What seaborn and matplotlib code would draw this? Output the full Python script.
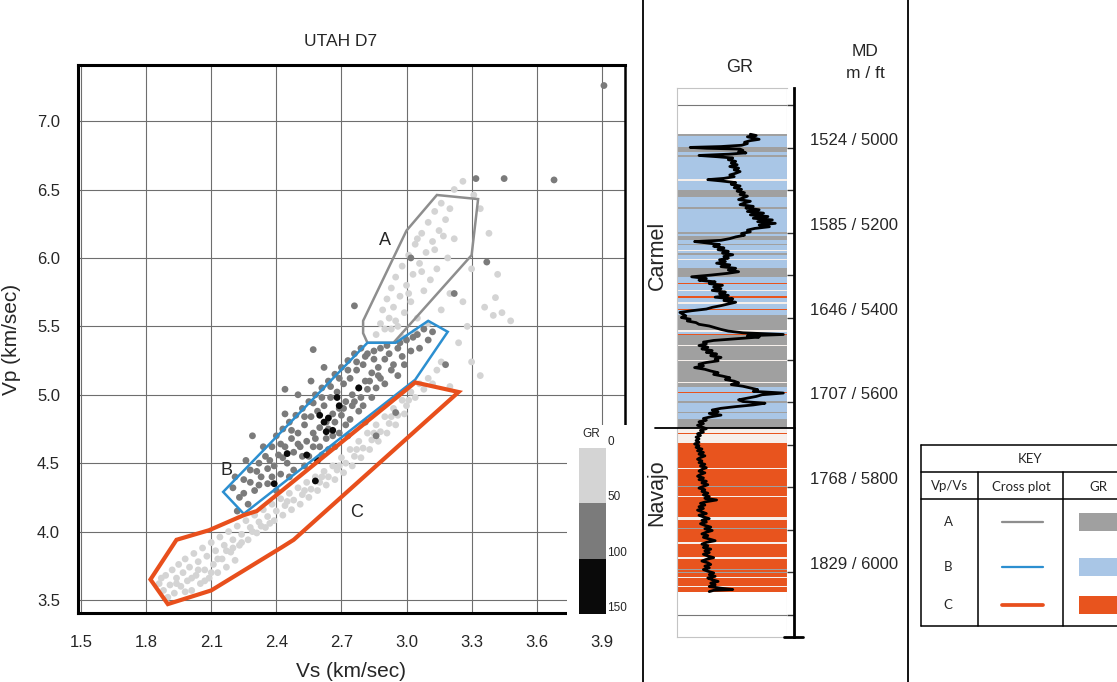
import pandas as pd
import seaborn as sns
import matplotlib.pyplot as plt
import matplotlib.lines as mlines
import matplotlib.patches as mpatches
import matplotlib.transforms as mtransforms
import matplotlib.cm as cm
from matplotlib.colors import ListedColormap, BoundaryNorm

W, H = 1117, 682

# ---------------- cross plot data ----------------
gr_bins = ['0-50', '50-100', '100-150']
gr_edges = [0, 50, 100, 150]
gr_colors = ['#d4d4d4', '#7b7b7b', '#0a0a0a']

x_ticks = [1.5, 1.8, 2.1, 2.4, 2.7, 3.0, 3.3, 3.6, 3.9]
y_ticks = [3.5, 4.0, 4.5, 5.0, 5.5, 6.0, 6.5, 7.0]

# (Vs, Vp) pairs, GR 0-50
pts_low_gr = [
    (1.86, 3.62), (1.88, 3.57), (1.89, 3.68), (1.91, 3.61), (1.92, 3.72), (1.93, 3.55), (1.94, 3.66),
    (1.95, 3.76), (1.96, 3.60), (1.97, 3.70), (1.98, 3.80), (1.99, 3.64), (2.00, 3.74), (2.01, 3.57),
    (2.02, 3.84), (2.03, 3.68), (2.04, 3.78), (2.05, 3.62), (2.06, 3.88), (2.07, 3.72), (2.08, 3.82),
    (2.09, 3.66), (2.10, 3.92), (2.11, 3.76), (2.12, 3.86), (2.13, 3.70), (2.14, 3.96), (2.15, 3.80),
    (2.16, 3.90), (2.17, 3.74), (2.18, 4.00), (2.19, 3.85), (2.20, 3.94), (2.21, 3.79), (2.22, 4.04),
    (2.23, 3.90), (2.24, 3.98), (2.26, 4.08), (2.27, 3.94), (2.28, 4.03), (2.30, 4.12), (2.31, 3.99),
    (2.32, 4.07), (2.34, 4.16), (2.35, 4.03), (2.36, 4.11), (2.38, 4.20), (2.39, 4.08), (2.40, 4.15),
    (2.42, 4.24), (2.43, 4.12), (2.44, 4.19), (2.46, 4.28), (2.47, 4.16), (2.48, 4.23), (2.50, 4.32),
    (2.51, 4.20), (2.52, 4.27), (2.54, 4.36), (2.55, 4.25), (2.56, 4.31), (2.58, 4.40), (2.59, 4.30),
    (2.60, 4.36), (2.62, 4.44), (2.63, 4.34), (2.64, 4.40), (2.66, 4.48), (2.67, 4.38), (2.68, 4.45),
    (2.70, 4.54), (2.71, 4.43), (2.72, 4.50), (2.74, 4.60), (2.75, 4.48), (2.76, 4.55), (2.78, 4.66),
    (2.79, 4.54), (2.80, 4.61), (2.82, 4.72), (2.83, 4.60), (2.84, 4.67), (2.86, 4.78), (2.87, 4.66),
    (2.88, 4.73), (2.90, 4.84), (2.91, 4.72), (2.92, 4.79), (2.94, 4.90), (2.95, 4.78), (2.96, 4.85),
    (2.98, 4.96), (2.99, 4.86), (3.00, 4.92), (3.02, 5.02), (3.04, 4.98), (3.06, 5.08), (3.08, 5.04),
    (3.10, 5.12), (3.12, 5.08), (3.14, 5.18), (3.16, 5.24),
    (2.86, 5.44), (2.88, 5.52), (2.89, 5.62), (2.90, 5.48), (2.91, 5.70), (2.92, 5.56), (2.93, 5.78),
    (2.94, 5.64), (2.95, 5.86), (2.96, 5.50), (2.97, 5.72), (2.98, 5.94), (2.99, 5.60), (3.00, 5.80),
    (3.01, 6.02), (3.02, 5.68), (3.03, 5.88), (3.04, 6.10), (3.05, 5.56), (3.06, 5.96), (3.07, 6.18),
    (3.08, 5.76), (3.09, 6.04), (3.10, 6.26), (3.11, 5.84), (3.12, 6.12), (3.13, 6.34), (3.14, 5.92),
    (3.15, 6.20), (3.16, 6.40), (3.18, 6.28), (3.19, 6.00), (3.20, 6.36), (3.22, 6.14), (2.98, 5.42),
    (3.04, 5.46), (3.10, 5.52), (3.16, 5.62), (3.20, 5.74),
    (3.22, 6.50), (3.26, 6.56), (3.34, 6.36), (3.30, 5.92), (3.36, 5.64), (3.40, 5.58), (3.44, 5.60),
    (3.26, 5.68), (3.24, 5.38), (3.30, 5.24), (3.34, 5.14), (3.20, 5.06), (3.38, 6.18), (3.42, 5.88),
    (3.28, 5.50), (3.48, 5.54), (3.31, 6.46), (3.41, 5.71),
    (1.87, 3.66), (1.90, 3.52), (1.94, 3.62), (1.98, 3.56), (2.01, 3.66), (2.04, 3.72), (2.07, 3.64),
    (2.10, 3.70), (2.13, 3.80), (2.17, 3.86), (2.20, 3.88), (2.24, 3.92), (2.29, 4.00), (2.33, 4.04),
    (2.37, 4.06), (2.45, 4.22), (2.53, 4.30), (2.61, 4.40), (2.69, 4.48), (2.77, 4.60), (2.85, 4.72),
    (2.93, 4.84), (3.01, 4.96), (2.95, 5.54), (3.01, 5.74), (3.07, 5.90), (3.13, 6.06), (3.17, 6.16),
    (3.05, 6.14), (2.93, 5.48),
]

# GR 50-100
pts_mid_gr = [
    (2.20, 4.32), (2.23, 4.25), (2.25, 4.38), (2.27, 4.20), (2.28, 4.45), (2.30, 4.30), (2.32, 4.50),
    (2.33, 4.40), (2.35, 4.55), (2.36, 4.35), (2.38, 4.62), (2.39, 4.48), (2.40, 4.70), (2.41, 4.56),
    (2.42, 4.42), (2.43, 4.75), (2.44, 4.62), (2.45, 4.50), (2.46, 4.80), (2.47, 4.68), (2.48, 4.58),
    (2.49, 4.85), (2.50, 4.72), (2.51, 4.62), (2.52, 4.90), (2.53, 4.78), (2.54, 4.66), (2.55, 4.95),
    (2.56, 4.84), (2.57, 4.72), (2.58, 5.00), (2.59, 4.88), (2.60, 4.76), (2.61, 5.05), (2.62, 4.92),
    (2.63, 4.80), (2.64, 5.10), (2.65, 4.98), (2.66, 4.86), (2.67, 5.15), (2.68, 5.02), (2.69, 4.90),
    (2.70, 5.20), (2.71, 5.08), (2.72, 4.95), (2.73, 5.25), (2.74, 5.12), (2.75, 5.00), (2.76, 5.30),
    (2.77, 5.18), (2.78, 5.05), (2.79, 5.34), (2.80, 5.22), (2.81, 5.10), (2.82, 5.30), (2.84, 5.16),
    (2.85, 5.26), (2.87, 5.20), (2.88, 5.34), (2.90, 5.26), (2.92, 5.30), (2.94, 5.22), (2.96, 5.34),
    (2.98, 5.28), (3.00, 5.40), (3.02, 5.32), (3.05, 5.44), (3.08, 5.48), (3.10, 5.40), (3.12, 5.46),
    (2.22, 4.15), (2.26, 4.52), (2.34, 4.62), (2.44, 4.86), (2.50, 5.00), (2.56, 5.10), (2.62, 5.20),
    (2.40, 4.30), (2.48, 4.45), (2.55, 4.55), (2.60, 4.62), (2.66, 4.70), (2.72, 4.78), (2.78, 4.88),
    (2.84, 4.98), (2.90, 5.08), (2.96, 5.14), (2.28, 4.36), (2.52, 4.55), (2.58, 4.68), (2.64, 4.75),
    (2.70, 4.85), (2.76, 4.95), (2.82, 5.04), (2.88, 5.12), (2.64, 4.60), (2.69, 4.72), (2.74, 4.82),
    (2.80, 4.92), (2.86, 5.05),
    (2.31, 4.44), (2.37, 4.52), (2.42, 4.64), (2.47, 4.74), (2.53, 4.84), (2.57, 4.94), (2.61, 4.98),
    (2.65, 5.06), (2.69, 5.12), (2.73, 5.18), (2.77, 5.24), (2.81, 5.28), (2.85, 5.32), (2.91, 5.36),
    (2.97, 5.38), (3.03, 5.42), (2.36, 4.46), (2.43, 4.54), (2.50, 4.64), (2.57, 4.62), (2.63, 4.68),
    (2.67, 4.80), (2.71, 4.90), (2.75, 4.92), (2.79, 4.98), (2.83, 5.10), (2.87, 5.14), (2.93, 5.18),
    (2.99, 5.22), (3.06, 5.34), (2.21, 4.40), (2.25, 4.28), (2.32, 4.34), (2.38, 4.40), (2.46, 4.40),
    (2.53, 4.48), (2.61, 4.56), (2.67, 4.62), (2.73, 4.70), (2.81, 4.80),
    (2.57, 5.33), (2.44, 5.04), (2.29, 4.70), (2.76, 5.65), (3.18, 5.22), (2.86, 4.70), (2.95, 4.87),
    (3.02, 6.00), (3.22, 5.74), (3.37, 5.97), (3.32, 6.58), (3.45, 6.58), (3.68, 6.57), (3.91, 7.26),
]

# GR 100-150
pts_high_gr = [
    (2.45, 4.57), (2.39, 4.35), (2.54, 4.56), (2.58, 4.37), (2.63, 4.73), (2.64, 4.83), (2.68, 4.98),
    (2.78, 5.05), (2.60, 4.85), (2.62, 4.80), (2.69, 4.92), (2.59, 4.52), (2.66, 4.74),
]

# Vp/Vs zones drawn on the cross plot
zone_a_vs = [3.14, 3.33, 3.30, 2.94, 2.82, 2.80, 2.80, 3.00]
zone_a_vp = [6.46, 6.43, 6.02, 5.38, 5.38, 5.45, 5.54, 6.20]
zone_b_vs = [2.155, 2.25, 3.04, 3.19, 3.10, 2.95, 2.82]
zone_b_vp = [4.29, 4.13, 5.11, 5.46, 5.54, 5.38, 5.38]
zone_c_vs = [3.04, 3.24, 2.48, 2.43, 2.10, 1.90, 1.82, 1.94, 2.09, 2.25, 2.31]
zone_c_vp = [5.09, 5.02, 3.94, 3.89, 3.57, 3.47, 3.65, 3.94, 4.01, 4.12, 4.15]
zone_names = ['A', 'B', 'C']
zone_label_vs = [2.90, 2.17, 2.77]
zone_label_vp = [6.13, 4.45, 4.14]

# ---------------- GR log data ----------------
md_ft = [5000, 5200, 5400, 5600, 5800, 6000]
md_m = [1524, 1585, 1646, 1707, 1768, 1829]
md_minor = [4900, 5100, 5300, 5500, 5700, 5900, 6100]
formation_top_navajo = 5660

band_top = [4968, 4972, 4998, 5010, 5017, 5022, 5074, 5078, 5100, 5116, 5140, 5144, 5198, 5204,
            5208, 5217, 5226, 5229, 5240, 5243, 5248, 5252, 5261, 5264, 5284, 5305, 5318, 5322,
            5334, 5338, 5350, 5354, 5364, 5367, 5380, 5383, 5394, 5430, 5434, 5439, 5442, 5464,
            5466, 5500, 5503, 5552, 5555, 5563, 5576, 5579, 5597, 5601, 5623, 5626, 5640, 5660,
            5672, 5675, 5695, 5754, 5757, 5797, 5800, 5821, 5824, 5871, 5878, 5895, 5898, 5930,
            5933, 5965, 5968, 5993, 5996, 5999, 6002, 6012, 6015, 6033, 6036]
band_base_last = 6046
band_class = ['A', 'B', 'A', 'B', 'A', 'B', 'W', 'B', 'A', 'B', 'A', 'B', 'A', 'B',
              'A', 'B', 'A', 'B', 'W', 'B', 'A', 'B', 'W', 'B', 'A', 'B', 'C', 'B',
              'W', 'B', 'C', 'B', 'W', 'B', 'C', 'B', 'A', 'W', 'B', 'C', 'A', 'W',
              'A', 'W', 'A', 'W', 'A', 'B', 'C', 'B', 'A', 'B', 'A', 'B', 'A', 'W',
              'C', 'W', 'C', 'W', 'C', 'A', 'C', 'W', 'C', 'W', 'C', 'A', 'C', 'W',
              'C', 'W', 'C', 'A', 'C', 'A', 'C', 'W', 'C', 'W', 'C']
band_colors = {'A': '#a0a0a0', 'B': '#a9c6e6', 'C': '#e8541e', 'W': '#f6efeb'}
zone_line_colors = {'A': '#8e8e8e', 'B': '#2c8fd0', 'C': '#e84f1c'}
zone_line_widths = {'A': 1.8, 'B': 1.8, 'C': 3.0}

gr_depth = [4968, 4971, 4974, 4977, 4980, 4983, 4987, 4990, 4994, 4997, 4999, 5001, 5003, 5006,
            5009, 5012, 5015, 5018, 5021, 5024, 5028, 5032, 5036, 5040, 5044, 5048, 5052, 5056,
            5060, 5064, 5068, 5072, 5075, 5078, 5082, 5086, 5090, 5094, 5098, 5102, 5106, 5110,
            5114, 5118, 5122, 5126, 5130, 5134, 5138, 5142, 5146, 5150, 5154, 5158, 5162, 5166,
            5170, 5174, 5178, 5182, 5186, 5190, 5194, 5198, 5202, 5206, 5210, 5214, 5218, 5221,
            5224, 5228, 5232, 5236, 5240, 5244, 5248, 5252, 5256, 5260, 5264, 5268, 5272, 5276,
            5280, 5284, 5288, 5292, 5296, 5300, 5304, 5308, 5312, 5316, 5320, 5324, 5328, 5332,
            5336, 5340, 5344, 5348, 5352, 5356, 5360, 5364, 5368, 5372, 5376, 5380, 5384, 5388,
            5392, 5396, 5400, 5404, 5408, 5412, 5416, 5420, 5424, 5428, 5432, 5436, 5440, 5443,
            5446, 5450, 5454, 5458, 5462, 5466, 5470, 5474, 5478, 5482, 5486, 5490, 5494, 5498,
            5502, 5506, 5510, 5514, 5518, 5522, 5526, 5530, 5534, 5538, 5542, 5546, 5550, 5554,
            5558, 5562, 5566, 5570, 5574, 5578, 5582, 5586, 5590, 5594, 5598, 5602, 5606, 5610,
            5614, 5618, 5622, 5626, 5630, 5634, 5638, 5642, 5646, 5650, 5654, 5658, 5662, 5666,
            5670, 5674, 5678, 5682, 5686, 5690, 5694, 5698, 5702, 5706, 5710, 5714, 5718, 5722,
            5726, 5730, 5734, 5738, 5742, 5746, 5750, 5754, 5758, 5762, 5766, 5770, 5774, 5778,
            5782, 5786, 5790, 5794, 5798, 5802, 5806, 5810, 5814, 5818, 5822, 5826, 5830, 5834,
            5838, 5842, 5846, 5850, 5854, 5858, 5862, 5866, 5870, 5874, 5878, 5882, 5886, 5890,
            5894, 5898, 5902, 5906, 5910, 5914, 5918, 5922, 5926, 5930, 5934, 5938, 5942, 5946,
            5950, 5954, 5958, 5962, 5966, 5970, 5974, 5978, 5982, 5986, 5990, 5994, 5998, 6002,
            6006, 6010, 6014, 6018, 6022, 6026, 6030, 6034, 6038, 6041, 6043, 6046]
gr_api = [100, 108, 96, 104, 112, 100, 92, 96, 88, 60, 18, 40, 86, 90,
          84, 94, 70, 30, 55, 76, 70, 80, 74, 82, 72, 84, 78, 86,
          80, 72, 78, 64, 42, 60, 80, 74, 86, 78, 88, 82, 92, 86,
          96, 90, 84, 100, 92, 86, 104, 94, 112, 96, 118, 100, 124, 104,
          130, 110, 134, 112, 126, 106, 96, 100, 88, 92, 80, 72, 60, 24,
          40, 58, 50, 64, 56, 70, 62, 76, 64, 70, 58, 66, 54, 72,
          60, 80, 70, 84, 68, 46, 20, 40, 30, 52, 44, 62, 50, 60,
          48, 66, 58, 70, 52, 76, 64, 80, 70, 60, 48, 40, 20, 4,
          8, 12, 6, 18, 14, 26, 30, 44, 52, 60, 70, 90, 145, 96,
          112, 80, 50, 36, 40, 30, 42, 34, 48, 40, 54, 46, 60, 52,
          56, 40, 30, 36, 24, 38, 46, 56, 50, 62, 72, 66, 78, 84,
          74, 90, 100, 110, 104, 145, 116, 108, 96, 84, 90, 120, 104, 80,
          60, 48, 56, 44, 60, 46, 36, 40, 30, 36, 28, 34, 40, 32,
          36, 28, 32, 26, 30, 26, 30, 24, 30, 26, 34, 28, 36, 30,
          38, 32, 28, 34, 30, 38, 32, 40, 34, 30, 38, 32, 28, 36,
          30, 40, 34, 42, 36, 30, 38, 34, 42, 36, 44, 38, 54, 40,
          32, 38, 30, 36, 28, 34, 40, 30, 36, 44, 34, 40, 32, 38,
          46, 38, 48, 40, 34, 42, 36, 44, 52, 40, 34, 42, 36, 46,
          38, 44, 36, 42, 50, 40, 34, 42, 46, 38, 44, 36, 42, 50,
          44, 52, 42, 48, 56, 46, 52, 44, 60, 76, 50, 44]

# ---------------- figure ----------------
sns.set_style('white')
plt.rcParams['font.family'] = ['Liberation Sans', 'DejaVu Sans']

fig = plt.figure(figsize=(W / 100, H / 100), dpi=100)
px = mtransforms.Affine2D().scale(1 / W, -1 / H).translate(0, 1) + fig.transFigure

# cross plot
ax = fig.add_axes([78 / W, 1 - 613 / H, 547 / W, 548 / H])
rows = []
for pts, b in zip([pts_low_gr, pts_mid_gr, pts_high_gr], gr_bins):
    rows += [{'vs': v, 'vp': p, 'gr': b} for v, p in pts]
df_xp = pd.DataFrame(rows)

sns.scatterplot(data=df_xp, x='vs', y='vp', hue='gr', hue_order=gr_bins,
                palette=dict(zip(gr_bins, gr_colors)), s=24, linewidth=0,
                legend=False, ax=ax, zorder=3)

zones = {'A': (zone_a_vs, zone_a_vp), 'B': (zone_b_vs, zone_b_vp), 'C': (zone_c_vs, zone_c_vp)}
for name, (zvs, zvp) in zones.items():
    ax.add_patch(mpatches.Polygon(list(zip(zvs, zvp)), closed=True, fill=False,
                                  ec=zone_line_colors[name], lw=zone_line_widths[name],
                                  joinstyle='miter', zorder=4))
for name, lx, ly in zip(zone_names, zone_label_vs, zone_label_vp):
    ax.text(lx, ly, name, fontsize=13, ha='center', va='center', zorder=5)

ax.set_xlim(1.486, 4.007)
ax.set_ylim(3.405, 7.41)
ax.set_xticks(x_ticks, labels=[f'{t:.1f}' for t in x_ticks])
ax.set_yticks(y_ticks, labels=[f'{t:.1f}' for t in y_ticks])
ax.grid(True, color='#6e6e6e', lw=0.8)
ax.tick_params(axis='x', length=0, labelsize=12, pad=16)
ax.tick_params(axis='y', length=0, labelsize=12, pad=13)
for s in ax.spines.values():
    s.set_linewidth(2.2)
    s.set_color('black')
ax.spines['right'].set_linewidth(1.8)
ax.set_xlabel('Vs (km/sec)', fontsize=15)
ax.set_ylabel('Vp (km/sec)', fontsize=15)
ax.xaxis.set_label_coords(0.5, -0.09)
ax.yaxis.set_label_coords(-0.105, 0.5)
ax.set_title('UTAH D7', fontsize=12.5, x=0.48, pad=14)

# white patch behind the GR colour key
fig.add_artist(mpatches.Rectangle((567, 425), 75, 195, transform=px, fc='white', ec='none', zorder=1))

cax = fig.add_axes([579 / W, 1 - 614 / H, 27 / W, 166 / H])
cax.set_zorder(2)
cb = fig.colorbar(cm.ScalarMappable(norm=BoundaryNorm(gr_edges, 3), cmap=ListedColormap(gr_colors)),
                  cax=cax, ticks=gr_edges)
cax.invert_yaxis()
cb.outline.set_visible(False)
cax.tick_params(length=0, labelsize=8.5, pad=1)
for t in cax.get_yticklabels():
    t.set_verticalalignment('bottom')
cax.text(0.45, 1.05, 'GR', transform=cax.transAxes, ha='center', va='bottom', fontsize=8.5)

# panel separators
for xs in (643, 908):
    fig.add_artist(mlines.Line2D([xs, xs], [0, H], transform=px, color='black', lw=1.3))

# GR log track
axg = fig.add_axes([677 / W, 1 - 637 / H, 110 / W, 549 / H])
mids = [(t + b) / 2 for t, b in zip(band_top, band_top[1:] + [band_base_last])]
thick = [b - t for t, b in zip(band_top, band_top[1:] + [band_base_last])]
axg.barh(y=mids, width=150, height=thick, left=0,
         color=[band_colors[c] for c in band_class], edgecolor='none', zorder=1)
df_gr = pd.DataFrame({'gr': gr_api, 'depth': gr_depth})
sns.lineplot(data=df_gr, x='gr', y='depth', sort=False, estimator=None,
             color='black', linewidth=2.0, ax=axg, zorder=3)
axg.set_xlim(0, 150)
axg.set_ylim(6153, 4859)
axg.set_xticks([])
axg.set_xlabel('')
axg.set_ylabel('')
for s in ['left', 'top', 'bottom']:
    axg.spines[s].set_color('#c4c4c4')
    axg.spines[s].set_linewidth(0.8)
axg.axvline(150, color='#c4c4c4', lw=0.8)
axg.axhline(4900, color='#777777', lw=0.8)
axg.axhline(6100, color='#777777', lw=0.8)
axg.spines['right'].set_position(('outward', 5))
axg.spines['right'].set_linewidth(2)
axg.spines['right'].set_color('black')
axg.yaxis.tick_right()
axg.set_yticks(md_ft, labels=[f'{m} / {f}' for m, f in zip(md_m, md_ft)])
axg.set_yticks(md_minor, minor=True)
axg.tick_params(axis='y', which='both', direction='in', length=5, width=1, color='#333333',
                labelsize=12, pad=11.5)
for t in axg.get_yticklabels():
    t.set_verticalalignment('bottom')
axg.plot([-30, 161], [formation_top_navajo] * 2, color='black', lw=1.3, clip_on=False, zorder=4)
axg.text(-27, 5253, 'Carmel', rotation=90, ha='center', va='center', fontsize=15.5)
axg.text(-27, 5813, 'Navajo', rotation=90, ha='center', va='center', fontsize=15.5)
fig.add_artist(mlines.Line2D([784, 803], [637, 637], transform=px, color='black', lw=2))

fig.text(740 / W, 1 - 67 / H, 'GR', ha='center', va='center', fontsize=13)
fig.text(865 / W, 1 - 51 / H, 'MD', ha='center', va='center', fontsize=12.5)
fig.text(865 / W, 1 - 73 / H, 'm / ft', ha='center', va='center', fontsize=12.5)

# key table
key_font = ['Lato', 'DejaVu Sans']
for y in (445, 472, 499, 626):
    fig.add_artist(mlines.Line2D([921, 1120], [y, y], transform=px, color='black', lw=1.1))
fig.add_artist(mlines.Line2D([921, 921], [445, 626], transform=px, color='black', lw=1.1))
for xs in (978, 1063):
    fig.add_artist(mlines.Line2D([xs, xs], [472, 626], transform=px, color='black', lw=1.1))
fig.text(1030 / W, 1 - 459 / H, 'KEY', ha='center', va='center', fontsize=9.5, family=key_font)
fig.text(950 / W, 1 - 486 / H, 'Vp/Vs', ha='center', va='center', fontsize=9.5, family=key_font)
fig.text(1021 / W, 1 - 487 / H, 'Cross plot', ha='center', va='center', fontsize=9.5, family=key_font)
fig.text(1098 / W, 1 - 487 / H, 'GR', ha='center', va='center', fontsize=9.5, family=key_font)
for name, yk in zip(zone_names, (522, 567, 605)):
    fig.text(948 / W, 1 - yk / H, name, ha='center', va='center', fontsize=9.5, family=key_font)
    fig.add_artist(mlines.Line2D([1002, 1043], [yk, yk], transform=px,
                                 color=zone_line_colors[name], lw=zone_line_widths[name] * 0.9))
    fig.add_artist(mpatches.Rectangle((1079, yk - 9), 45, 18, transform=px,
                                      fc=band_colors[name], ec='none'))

fig.savefig('out.png', dpi=100)
